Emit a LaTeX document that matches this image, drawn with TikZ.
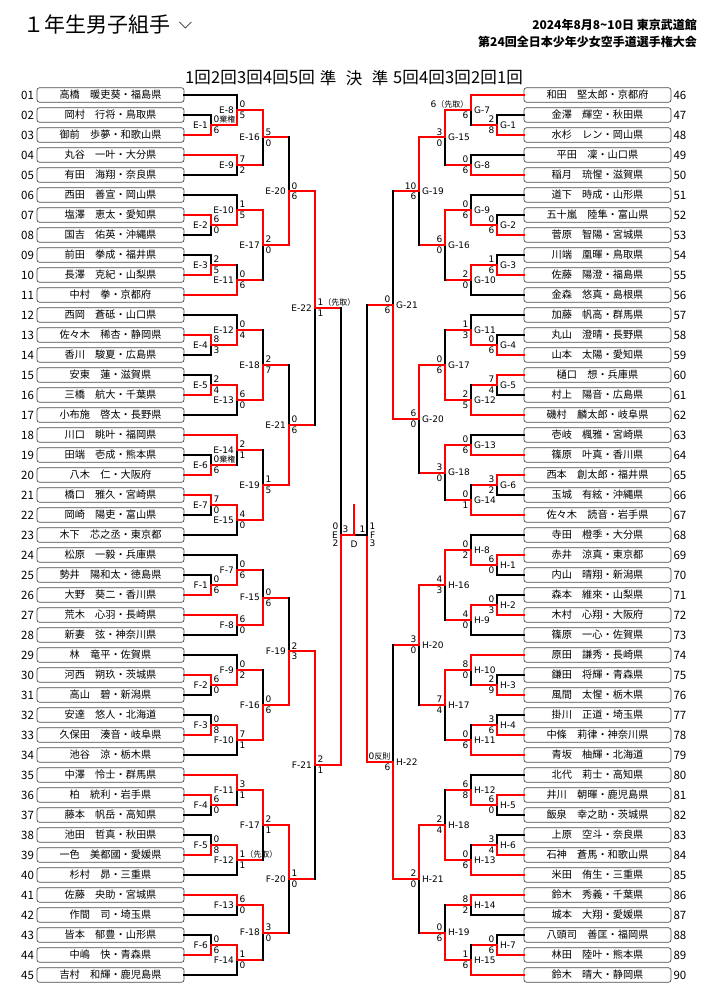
\documentclass[tikz,border=0pt]{standalone}
\usepackage{fontspec}
\setmainfont{Noto Sans CJK JP}
\newfontfamily\jp{Noto Sans CJK JP}
\newfontfamily\dv{DejaVu Sans}
\newcommand\jnote[1]{{\jp\fontsize{8}{9}\selectfont #1}}
\usetikzlibrary{positioning,calc}

\begin{document}
\begin{tikzpicture}[x=1pt, y=-1pt, node distance=20pt,
  namebox/.style = {draw=black!70, line width=0.7pt, rounded corners=2.5pt, minimum width=147pt, minimum height=14.5pt, inner sep=0pt, font=\fontsize{10.2}{12}\selectfont},
  num/.style = {inner sep=2.5pt, font=\fontsize{11.5}{13}\selectfont},
  lnum/.style = {label={[num]left:#1}},
  rnum/.style = {label={[num, inner sep=2pt]right:#1}},
  win/.style = {draw=red, line width=2pt, line cap=rect},
  lose/.style = {draw=black, line width=2pt, line cap=rect},
  labL/.style = {anchor=east, inner sep=3pt, font=\dv\fontsize{9}{10}\selectfont},
  labR/.style = {labL, anchor=west},
  stL/.style = {anchor=south west, inner xsep=2.5pt, inner ysep=2pt, text height=6.5pt, text depth=0pt, font=\dv\fontsize{9}{10}\selectfont},
  sbL/.style = {stL, anchor=north west},
  stR/.style = {stL, anchor=south east},
  sbR/.style = {stL, anchor=north east},
  roundhead/.style = {inner sep=0pt, font=\fontsize{16.5}{18}\selectfont}]
\fill[white] (0,0) rectangle (707,1000);
\useasboundingbox (0,0) rectangle (707,1000);

% header
\node[anchor=west, inner sep=0pt, font=\fontsize{21}{24}\selectfont] (title) at (23,25) {１年生男子組手};
\draw[line width=0.8pt, black!80] ($(title.east)+(9,-3)$) -- ++(6,6) -- ++(6,-6);
\node[anchor=east, inner sep=0pt, font=\bfseries\fontsize{12}{14}\selectfont] (date) at (697,25) {2024年8月8\textasciitilde 10日 東京武道館};
\node[anchor=east, inner sep=0pt, font=\bfseries\fontsize{12}{14}\selectfont] (meet) at (697,42) {第24回全日本少年少女空手道選手権大会};
\node[roundhead] (hL1) at (198,78) {1回};
\node[roundhead] (hL2) at (224,78) {2回};
\node[roundhead] (hL3) at (250,78) {3回};
\node[roundhead] (hL4) at (276,78) {4回};
\node[roundhead] (hL5) at (302,78) {5回};
\node[roundhead] (hLs) at (328,78) {準};
\node[roundhead] (hF) at (354,78) {決};
\node[roundhead] (hRs) at (380,78) {準};
\node[roundhead] (hR5) at (406,78) {5回};
\node[roundhead] (hR4) at (432,78) {4回};
\node[roundhead] (hR3) at (458,78) {3回};
\node[roundhead] (hR2) at (484,78) {2回};
\node[roundhead] (hR1) at (510,78) {1回};

% columns
\coordinate (c1) at (211,0);
\coordinate (c2) at (237,0);
\coordinate (c3) at (263,0);
\coordinate (c4) at (289,0);
\coordinate (c5) at (315,0);
\coordinate (d1) at (497,0);
\coordinate (d2) at (471,0);
\coordinate (d3) at (445,0);
\coordinate (d4) at (419,0);
\coordinate (d5) at (393,0);

% left entries
\node[namebox, lnum=01] (p01) at (110.5,95) {高橋　暖吏葵・福島県};
\node[namebox, lnum=02, below of=p01] (p02) {岡村　行将・鳥取県};
\node[namebox, lnum=03, below of=p02] (p03) {御前　歩夢・和歌山県};
\node[namebox, lnum=04, below of=p03] (p04) {丸谷　一叶・大分県};
\node[namebox, lnum=05, below of=p04] (p05) {有田　海翔・奈良県};
\node[namebox, lnum=06, below of=p05] (p06) {西田　善宣・岡山県};
\node[namebox, lnum=07, below of=p06] (p07) {塩澤　恵太・愛知県};
\node[namebox, lnum=08, below of=p07] (p08) {国吉　佑英・沖縄県};
\node[namebox, lnum=09, below of=p08] (p09) {前田　拳成・福井県};
\node[namebox, lnum=10, below of=p09] (p10) {長澤　克紀・山梨県};
\node[namebox, lnum=11, below of=p10] (p11) {中村　拳・京都府};
\node[namebox, lnum=12, below of=p11] (p12) {西岡　蒼砥・山口県};
\node[namebox, lnum=13, below of=p12] (p13) {佐々木　稀杏・静岡県};
\node[namebox, lnum=14, below of=p13] (p14) {香川　駿夏・広島県};
\node[namebox, lnum=15, below of=p14] (p15) {安東　蓮・滋賀県};
\node[namebox, lnum=16, below of=p15] (p16) {三橋　航大・千葉県};
\node[namebox, lnum=17, below of=p16] (p17) {小布施　啓太・長野県};
\node[namebox, lnum=18, below of=p17] (p18) {川口　眺叶・福岡県};
\node[namebox, lnum=19, below of=p18] (p19) {田端　壱成・熊本県};
\node[namebox, lnum=20, below of=p19] (p20) {八木　仁・大阪府};
\node[namebox, lnum=21, below of=p20] (p21) {橋口　雅久・宮崎県};
\node[namebox, lnum=22, below of=p21] (p22) {岡崎　陽吏・富山県};
\node[namebox, lnum=23, below of=p22] (p23) {木下　芯之丞・東京都};
\node[namebox, lnum=24, below of=p23] (p24) {松原　一毅・兵庫県};
\node[namebox, lnum=25, below of=p24] (p25) {勢井　陽和太・徳島県};
\node[namebox, lnum=26, below of=p25] (p26) {大野　葵二・香川県};
\node[namebox, lnum=27, below of=p26] (p27) {荒木　心羽・長崎県};
\node[namebox, lnum=28, below of=p27] (p28) {新妻　弦・神奈川県};
\node[namebox, lnum=29, below of=p28] (p29) {林　竜平・佐賀県};
\node[namebox, lnum=30, below of=p29] (p30) {河西　朔玖・茨城県};
\node[namebox, lnum=31, below of=p30] (p31) {高山　碧・新潟県};
\node[namebox, lnum=32, below of=p31] (p32) {安達　悠人・北海道};
\node[namebox, lnum=33, below of=p32] (p33) {久保田　湊音・岐阜県};
\node[namebox, lnum=34, below of=p33] (p34) {池谷　涼・栃木県};
\node[namebox, lnum=35, below of=p34] (p35) {中澤　怜士・群馬県};
\node[namebox, lnum=36, below of=p35] (p36) {柏　統利・岩手県};
\node[namebox, lnum=37, below of=p36] (p37) {藤本　帆岳・高知県};
\node[namebox, lnum=38, below of=p37] (p38) {池田　哲真・秋田県};
\node[namebox, lnum=39, below of=p38] (p39) {一色　美都國・愛媛県};
\node[namebox, lnum=40, below of=p39] (p40) {杉村　昴・三重県};
\node[namebox, lnum=41, below of=p40] (p41) {佐藤　央助・宮城県};
\node[namebox, lnum=42, below of=p41] (p42) {作間　司・埼玉県};
\node[namebox, lnum=43, below of=p42] (p43) {皆本　郁豊・山形県};
\node[namebox, lnum=44, below of=p43] (p44) {中嶋　快・青森県};
\node[namebox, lnum=45, below of=p44] (p45) {吉村　和輝・鹿児島県};

% right entries
\node[namebox, rnum=46] (p46) at (597.5,95) {和田　堅太郎・京都府};
\node[namebox, rnum=47, below of=p46] (p47) {金澤　輝空・秋田県};
\node[namebox, rnum=48, below of=p47] (p48) {水杉　レン・岡山県};
\node[namebox, rnum=49, below of=p48] (p49) {平田　凜・山口県};
\node[namebox, rnum=50, below of=p49] (p50) {稲月　琉惺・滋賀県};
\node[namebox, rnum=51, below of=p50] (p51) {道下　時成・山形県};
\node[namebox, rnum=52, below of=p51] (p52) {五十嵐　陸隼・富山県};
\node[namebox, rnum=53, below of=p52] (p53) {菅原　智陽・宮城県};
\node[namebox, rnum=54, below of=p53] (p54) {川端　凰暉・鳥取県};
\node[namebox, rnum=55, below of=p54] (p55) {佐藤　陽澄・福島県};
\node[namebox, rnum=56, below of=p55] (p56) {金森　悠真・島根県};
\node[namebox, rnum=57, below of=p56] (p57) {加藤　帆高・群馬県};
\node[namebox, rnum=58, below of=p57] (p58) {丸山　澄晴・長野県};
\node[namebox, rnum=59, below of=p58] (p59) {山本　太陽・愛知県};
\node[namebox, rnum=60, below of=p59] (p60) {樋口　想・兵庫県};
\node[namebox, rnum=61, below of=p60] (p61) {村上　陽音・広島県};
\node[namebox, rnum=62, below of=p61] (p62) {磯村　麟太郎・岐阜県};
\node[namebox, rnum=63, below of=p62] (p63) {壱岐　楓雅・宮崎県};
\node[namebox, rnum=64, below of=p63] (p64) {篠原　叶真・香川県};
\node[namebox, rnum=65, below of=p64] (p65) {西本　創太郎・福井県};
\node[namebox, rnum=66, below of=p65] (p66) {玉城　有絃・沖縄県};
\node[namebox, rnum=67, below of=p66] (p67) {佐々木　読音・岩手県};
\node[namebox, rnum=68, below of=p67] (p68) {寺田　橙季・大分県};
\node[namebox, rnum=69, below of=p68] (p69) {赤井　涼真・東京都};
\node[namebox, rnum=70, below of=p69] (p70) {内山　晴翔・新潟県};
\node[namebox, rnum=71, below of=p70] (p71) {森本　維來・山梨県};
\node[namebox, rnum=72, below of=p71] (p72) {木村　心翔・大阪府};
\node[namebox, rnum=73, below of=p72] (p73) {篠原　一心・佐賀県};
\node[namebox, rnum=74, below of=p73] (p74) {原田　謙秀・長崎県};
\node[namebox, rnum=75, below of=p74] (p75) {鎌田　将輝・青森県};
\node[namebox, rnum=76, below of=p75] (p76) {風間　太惺・栃木県};
\node[namebox, rnum=77, below of=p76] (p77) {掛川　正道・埼玉県};
\node[namebox, rnum=78, below of=p77] (p78) {中條　莉律・神奈川県};
\node[namebox, rnum=79, below of=p78] (p79) {青坂　柚輝・北海道};
\node[namebox, rnum=80, below of=p79] (p80) {北代　莉士・高知県};
\node[namebox, rnum=81, below of=p80] (p81) {井川　朝暉・鹿児島県};
\node[namebox, rnum=82, below of=p81] (p82) {飯泉　幸之助・茨城県};
\node[namebox, rnum=83, below of=p82] (p83) {上原　空斗・奈良県};
\node[namebox, rnum=84, below of=p83] (p84) {石神　蒼馬・和歌山県};
\node[namebox, rnum=85, below of=p84] (p85) {米田　侑生・三重県};
\node[namebox, rnum=86, below of=p85] (p86) {鈴木　秀義・千葉県};
\node[namebox, rnum=87, below of=p86] (p87) {城本　大翔・愛媛県};
\node[namebox, rnum=88, below of=p87] (p88) {八頭司　善匡・福岡県};
\node[namebox, rnum=89, below of=p88] (p89) {林田　陸叶・熊本県};
\node[namebox, rnum=90, below of=p89] (p90) {鈴木　晴大・静岡県};

% E block
\path ($(p02 -| c1)!.5!(p03 -| c1)$) coordinate (E1) node[stL] {0\jnote{棄権}} node[sbL] {6} node[labL] {E-1};
\draw[lose] (p02.east) -| (E1); \draw[win] (p03.east) -| (E1);
\path ($(p07 -| c1)!.5!(p08 -| c1)$) coordinate (E2) node[stL] {6} node[sbL] {0} node[labL] {E-2};
\draw[lose] (p08.east) -| (E2); \draw[win] (p07.east) -| (E2);
\path ($(p09 -| c1)!.5!(p10 -| c1)$) coordinate (E3) node[stL] {2} node[sbL] {5} node[labL] {E-3};
\draw[lose] (p09.east) -| (E3); \draw[win] (p10.east) -| (E3);
\path ($(p13 -| c1)!.5!(p14 -| c1)$) coordinate (E4) node[stL] {8} node[sbL] {3} node[labL] {E-4};
\draw[lose] (p14.east) -| (E4); \draw[win] (p13.east) -| (E4);
\path ($(p15 -| c1)!.5!(p16 -| c1)$) coordinate (E5) node[stL] {2} node[sbL] {4} node[labL] {E-5};
\draw[lose] (p15.east) -| (E5); \draw[win] (p16.east) -| (E5);
\path ($(p19 -| c1)!.5!(p20 -| c1)$) coordinate (E6) node[stL] {0\jnote{棄権}} node[sbL] {6} node[labL] {E-6};
\draw[lose] (p19.east) -| (E6); \draw[win] (p20.east) -| (E6);
\path ($(p21 -| c1)!.5!(p22 -| c1)$) coordinate (E7) node[stL] {7} node[sbL] {0} node[labL] {E-7};
\draw[lose] (p22.east) -| (E7); \draw[win] (p21.east) -| (E7);
\path ($(p01 -| c2)!.5!(E1 -| c2)$) coordinate (E8) node[stL] {0} node[sbL] {5} node[labL] {E-8};
\draw[lose] (p01.east) -| (E8); \draw[win] (E1) -| (E8);
\path ($(p04 -| c2)!.5!(p05 -| c2)$) coordinate (E9) node[stL] {7} node[sbL] {2} node[labL] {E-9};
\draw[lose] (p05.east) -| (E9); \draw[win] (p04.east) -| (E9);
\path ($(p06 -| c2)!.5!(E2 -| c2)$) coordinate (E10) node[stL] {1} node[sbL] {5} node[labL] {E-10};
\draw[lose] (p06.east) -| (E10); \draw[win] (E2) -| (E10);
\path ($(E3 -| c2)!.5!(p11 -| c2)$) coordinate (E11) node[stL] {0} node[sbL] {6} node[labL] {E-11};
\draw[win] (E3) -- (E3 -| E11) edge[lose] (E11); \draw[win] (p11.east) -| (E11);
\path ($(p12 -| c2)!.5!(E4 -| c2)$) coordinate (E12) node[stL] {0} node[sbL] {4} node[labL] {E-12};
\draw[lose] (p12.east) -| (E12); \draw[win] (E4) -| (E12);
\path ($(E5 -| c2)!.5!(p17 -| c2)$) coordinate (E13) node[stL] {6} node[sbL] {0} node[labL] {E-13};
\draw[lose] (p17.east) -| (E13); \draw[win] (E5) -| (E13);
\path ($(p18 -| c2)!.5!(E6 -| c2)$) coordinate (E14) node[stL] {2} node[sbL] {1} node[labL] {E-14};
\draw[win] (E6) -- (E6 -| E14) edge[lose] (E14); \draw[win] (p18.east) -| (E14);
\path ($(E7 -| c2)!.5!(p23 -| c2)$) coordinate (E15) node[stL] {4} node[sbL] {0} node[labL] {E-15};
\draw[lose] (p23.east) -| (E15); \draw[win] (E7) -| (E15);
\path ($(E8 -| c3)!.5!(E9 -| c3)$) coordinate (E16) node[stL] {5} node[sbL] {0} node[labL] {E-16};
\draw[win] (E9) -- (E9 -| E16) edge[lose] (E16); \draw[win] (E8) -| (E16);
\path ($(E10 -| c3)!.5!(E11 -| c3)$) coordinate (E17) node[stL] {2} node[sbL] {0} node[labL] {E-17};
\draw[win] (E11) -- (E11 -| E17) edge[lose] (E17); \draw[win] (E10) -| (E17);
\path ($(E12 -| c3)!.5!(E13 -| c3)$) coordinate (E18) node[stL] {2} node[sbL] {7} node[labL] {E-18};
\draw[win] (E12) -- (E12 -| E18) edge[lose] (E18); \draw[win] (E13) -| (E18);
\path ($(E14 -| c3)!.5!(E15 -| c3)$) coordinate (E19) node[stL] {1} node[sbL] {5} node[labL] {E-19};
\draw[win] (E14) -- (E14 -| E19) edge[lose] (E19); \draw[win] (E15) -| (E19);
\path ($(E16 -| c4)!.5!(E17 -| c4)$) coordinate (E20) node[stL] {0} node[sbL] {6} node[labL] {E-20};
\draw[win] (E16) -- (E16 -| E20) edge[lose] (E20); \draw[win] (E17) -| (E20);
\path ($(E18 -| c4)!.5!(E19 -| c4)$) coordinate (E21) node[stL] {0} node[sbL] {6} node[labL] {E-21};
\draw[win] (E18) -- (E18 -| E21) edge[lose] (E21); \draw[win] (E19) -| (E21);
\path ($(E20 -| c5)!.5!(E21 -| c5)$) coordinate (E22) node[stL] {1\jnote{（先取）}} node[sbL] {1} node[labL] {E-22};
\draw[win] (E21) -- (E21 -| E22) edge[lose] (E22); \draw[win] (E20) -| (E22);

% F block
\path ($(p25 -| c1)!.5!(p26 -| c1)$) coordinate (F1) node[stL] {0} node[sbL] {6} node[labL] {F-1};
\draw[lose] (p25.east) -| (F1); \draw[win] (p26.east) -| (F1);
\path ($(p30 -| c1)!.5!(p31 -| c1)$) coordinate (F2) node[stL] {6} node[sbL] {0} node[labL] {F-2};
\draw[lose] (p31.east) -| (F2); \draw[win] (p30.east) -| (F2);
\path ($(p32 -| c1)!.5!(p33 -| c1)$) coordinate (F3) node[stL] {0} node[sbL] {8} node[labL] {F-3};
\draw[lose] (p32.east) -| (F3); \draw[win] (p33.east) -| (F3);
\path ($(p36 -| c1)!.5!(p37 -| c1)$) coordinate (F4) node[stL] {6} node[sbL] {0} node[labL] {F-4};
\draw[lose] (p37.east) -| (F4); \draw[win] (p36.east) -| (F4);
\path ($(p38 -| c1)!.5!(p39 -| c1)$) coordinate (F5) node[stL] {0} node[sbL] {8} node[labL] {F-5};
\draw[lose] (p38.east) -| (F5); \draw[win] (p39.east) -| (F5);
\path ($(p43 -| c1)!.5!(p44 -| c1)$) coordinate (F6) node[stL] {0} node[sbL] {6} node[labL] {F-6};
\draw[lose] (p43.east) -| (F6); \draw[win] (p44.east) -| (F6);
\path ($(p24 -| c2)!.5!(F1 -| c2)$) coordinate (F7) node[stL] {0} node[sbL] {6} node[labL] {F-7};
\draw[lose] (p24.east) -| (F7); \draw[win] (F1) -| (F7);
\path ($(p27 -| c2)!.5!(p28 -| c2)$) coordinate (F8) node[stL] {6} node[sbL] {0} node[labL] {F-8};
\draw[lose] (p28.east) -| (F8); \draw[win] (p27.east) -| (F8);
\path ($(p29 -| c2)!.5!(F2 -| c2)$) coordinate (F9) node[stL] {0} node[sbL] {2} node[labL] {F-9};
\draw[lose] (p29.east) -| (F9); \draw[win] (F2) -| (F9);
\path ($(F3 -| c2)!.5!(p34 -| c2)$) coordinate (F10) node[stL] {7} node[sbL] {1} node[labL] {F-10};
\draw[lose] (p34.east) -| (F10); \draw[win] (F3) -| (F10);
\path ($(p35 -| c2)!.5!(F4 -| c2)$) coordinate (F11) node[stL] {3} node[sbL] {1} node[labL] {F-11};
\draw[win] (F4) -- (F4 -| F11) edge[lose] (F11); \draw[win] (p35.east) -| (F11);
\path ($(F5 -| c2)!.5!(p40 -| c2)$) coordinate (F12) node[stL] {1\jnote{（先取）}} node[sbL] {1} node[labL] {F-12};
\draw[lose] (p40.east) -| (F12); \draw[win] (F5) -| (F12);
\path ($(p41 -| c2)!.5!(p42 -| c2)$) coordinate (F13) node[stL] {6} node[sbL] {0} node[labL] {F-13};
\draw[lose] (p42.east) -| (F13); \draw[win] (p41.east) -| (F13);
\path ($(F6 -| c2)!.5!(p45 -| c2)$) coordinate (F14) node[stL] {1} node[sbL] {0} node[labL] {F-14};
\draw[lose] (p45.east) -| (F14); \draw[win] (F6) -| (F14);
\path ($(F7 -| c3)!.5!(F8 -| c3)$) coordinate (F15) node[stL] {0} node[sbL] {6} node[labL] {F-15};
\draw[win] (F7) -- (F7 -| F15) edge[lose] (F15); \draw[win] (F8) -| (F15);
\path ($(F9 -| c3)!.5!(F10 -| c3)$) coordinate (F16) node[stL] {0} node[sbL] {6} node[labL] {F-16};
\draw[win] (F9) -- (F9 -| F16) edge[lose] (F16); \draw[win] (F10) -| (F16);
\path ($(F11 -| c3)!.5!(F12 -| c3)$) coordinate (F17) node[stL] {2} node[sbL] {1} node[labL] {F-17};
\draw[win] (F12) -- (F12 -| F17) edge[lose] (F17); \draw[win] (F11) -| (F17);
\path ($(F13 -| c3)!.5!(F14 -| c3)$) coordinate (F18) node[stL] {3} node[sbL] {0} node[labL] {F-18};
\draw[win] (F14) -- (F14 -| F18) edge[lose] (F18); \draw[win] (F13) -| (F18);
\path ($(F15 -| c4)!.5!(F16 -| c4)$) coordinate (F19) node[stL] {2} node[sbL] {3} node[labL] {F-19};
\draw[win] (F15) -- (F15 -| F19) edge[lose] (F19); \draw[win] (F16) -| (F19);
\path ($(F17 -| c4)!.5!(F18 -| c4)$) coordinate (F20) node[stL] {1} node[sbL] {0} node[labL] {F-20};
\draw[win] (F18) -- (F18 -| F20) edge[lose] (F20); \draw[win] (F17) -| (F20);
\path ($(F19 -| c5)!.5!(F20 -| c5)$) coordinate (F21) node[stL] {2} node[sbL] {1} node[labL] {F-21};
\draw[win] (F20) -- (F20 -| F21) edge[lose] (F21); \draw[win] (F19) -| (F21);

% G block
\path ($(p47 -| d1)!.5!(p48 -| d1)$) coordinate (G1) node[stR] {2} node[sbR] {8} node[labR] {G-1};
\draw[lose] (p47.west) -| (G1); \draw[win] (p48.west) -| (G1);
\path ($(p52 -| d1)!.5!(p53 -| d1)$) coordinate (G2) node[stR] {0} node[sbR] {6} node[labR] {G-2};
\draw[lose] (p52.west) -| (G2); \draw[win] (p53.west) -| (G2);
\path ($(p54 -| d1)!.5!(p55 -| d1)$) coordinate (G3) node[stR] {1} node[sbR] {6} node[labR] {G-3};
\draw[lose] (p54.west) -| (G3); \draw[win] (p55.west) -| (G3);
\path ($(p58 -| d1)!.5!(p59 -| d1)$) coordinate (G4) node[stR] {0} node[sbR] {6} node[labR] {G-4};
\draw[lose] (p58.west) -| (G4); \draw[win] (p59.west) -| (G4);
\path ($(p60 -| d1)!.5!(p61 -| d1)$) coordinate (G5) node[stR] {7} node[sbR] {4} node[labR] {G-5};
\draw[lose] (p61.west) -| (G5); \draw[win] (p60.west) -| (G5);
\path ($(p65 -| d1)!.5!(p66 -| d1)$) coordinate (G6) node[stR] {3} node[sbR] {2} node[labR] {G-6};
\draw[lose] (p66.west) -| (G6); \draw[win] (p65.west) -| (G6);
\path ($(p46 -| d2)!.5!(G1 -| d2)$) coordinate (G7) node[stR] {6\jnote{（先取）}} node[sbR] {6} node[labR] {G-7};
\draw[win] (G1) -- (G1 -| G7) edge[lose] (G7); \draw[win] (p46.west) -| (G7);
\path ($(p49 -| d2)!.5!(p50 -| d2)$) coordinate (G8) node[stR] {0} node[sbR] {6} node[labR] {G-8};
\draw[lose] (p49.west) -| (G8); \draw[win] (p50.west) -| (G8);
\path ($(p51 -| d2)!.5!(G2 -| d2)$) coordinate (G9) node[stR] {0} node[sbR] {6} node[labR] {G-9};
\draw[lose] (p51.west) -| (G9); \draw[win] (G2) -| (G9);
\path ($(G3 -| d2)!.5!(p56 -| d2)$) coordinate (G10) node[stR] {2} node[sbR] {0} node[labR] {G-10};
\draw[lose] (p56.west) -| (G10); \draw[win] (G3) -| (G10);
\path ($(p57 -| d2)!.5!(G4 -| d2)$) coordinate (G11) node[stR] {1} node[sbR] {3} node[labR] {G-11};
\draw[lose] (p57.west) -| (G11); \draw[win] (G4) -| (G11);
\path ($(G5 -| d2)!.5!(p62 -| d2)$) coordinate (G12) node[stR] {2} node[sbR] {5} node[labR] {G-12};
\draw[win] (G5) -- (G5 -| G12) edge[lose] (G12); \draw[win] (p62.west) -| (G12);
\path ($(p63 -| d2)!.5!(p64 -| d2)$) coordinate (G13) node[stR] {0} node[sbR] {6} node[labR] {G-13};
\draw[lose] (p63.west) -| (G13); \draw[win] (p64.west) -| (G13);
\path ($(G6 -| d2)!.5!(p67 -| d2)$) coordinate (G14) node[stR] {0} node[sbR] {1} node[labR] {G-14};
\draw[win] (G6) -- (G6 -| G14) edge[lose] (G14); \draw[win] (p67.west) -| (G14);
\path ($(G7 -| d3)!.5!(G8 -| d3)$) coordinate (G15) node[stR] {3} node[sbR] {0} node[labR] {G-15};
\draw[win] (G8) -- (G8 -| G15) edge[lose] (G15); \draw[win] (G7) -| (G15);
\path ($(G9 -| d3)!.5!(G10 -| d3)$) coordinate (G16) node[stR] {6} node[sbR] {0} node[labR] {G-16};
\draw[win] (G10) -- (G10 -| G16) edge[lose] (G16); \draw[win] (G9) -| (G16);
\path ($(G11 -| d3)!.5!(G12 -| d3)$) coordinate (G17) node[stR] {0} node[sbR] {6} node[labR] {G-17};
\draw[win] (G11) -- (G11 -| G17) edge[lose] (G17); \draw[win] (G12) -| (G17);
\path ($(G13 -| d3)!.5!(G14 -| d3)$) coordinate (G18) node[stR] {3} node[sbR] {0} node[labR] {G-18};
\draw[win] (G14) -- (G14 -| G18) edge[lose] (G18); \draw[win] (G13) -| (G18);
\path ($(G15 -| d4)!.5!(G16 -| d4)$) coordinate (G19) node[stR] {10} node[sbR] {6} node[labR] {G-19};
\draw[win] (G16) -- (G16 -| G19) edge[lose] (G19); \draw[win] (G15) -| (G19);
\path ($(G17 -| d4)!.5!(G18 -| d4)$) coordinate (G20) node[stR] {6} node[sbR] {0} node[labR] {G-20};
\draw[win] (G18) -- (G18 -| G20) edge[lose] (G20); \draw[win] (G17) -| (G20);
\path ($(G19 -| d5)!.5!(G20 -| d5)$) coordinate (G21) node[stR] {0} node[sbR] {6} node[labR] {G-21};
\draw[win] (G19) -- (G19 -| G21) edge[lose] (G21); \draw[win] (G20) -| (G21);

% H block
\path ($(p69 -| d1)!.5!(p70 -| d1)$) coordinate (H1) node[stR] {6} node[sbR] {0} node[labR] {H-1};
\draw[lose] (p70.west) -| (H1); \draw[win] (p69.west) -| (H1);
\path ($(p71 -| d1)!.5!(p72 -| d1)$) coordinate (H2) node[stR] {0} node[sbR] {3} node[labR] {H-2};
\draw[lose] (p71.west) -| (H2); \draw[win] (p72.west) -| (H2);
\path ($(p75 -| d1)!.5!(p76 -| d1)$) coordinate (H3) node[stR] {2} node[sbR] {9} node[labR] {H-3};
\draw[lose] (p75.west) -| (H3); \draw[win] (p76.west) -| (H3);
\path ($(p77 -| d1)!.5!(p78 -| d1)$) coordinate (H4) node[stR] {3} node[sbR] {6} node[labR] {H-4};
\draw[lose] (p77.west) -| (H4); \draw[win] (p78.west) -| (H4);
\path ($(p81 -| d1)!.5!(p82 -| d1)$) coordinate (H5) node[stR] {6} node[sbR] {0} node[labR] {H-5};
\draw[lose] (p82.west) -| (H5); \draw[win] (p81.west) -| (H5);
\path ($(p83 -| d1)!.5!(p84 -| d1)$) coordinate (H6) node[stR] {3} node[sbR] {4} node[labR] {H-6};
\draw[lose] (p83.west) -| (H6); \draw[win] (p84.west) -| (H6);
\path ($(p88 -| d1)!.5!(p89 -| d1)$) coordinate (H7) node[stR] {0} node[sbR] {6} node[labR] {H-7};
\draw[lose] (p88.west) -| (H7); \draw[win] (p89.west) -| (H7);
\path ($(p68 -| d2)!.5!(H1 -| d2)$) coordinate (H8) node[stR] {0} node[sbR] {2} node[labR] {H-8};
\draw[lose] (p68.west) -| (H8); \draw[win] (H1) -| (H8);
\path ($(H2 -| d2)!.5!(p73 -| d2)$) coordinate (H9) node[stR] {4} node[sbR] {0} node[labR] {H-9};
\draw[lose] (p73.west) -| (H9); \draw[win] (H2) -| (H9);
\path ($(p74 -| d2)!.5!(H3 -| d2)$) coordinate (H10) node[stR] {8} node[sbR] {0} node[labR] {H-10};
\draw[win] (H3) -- (H3 -| H10) edge[lose] (H10); \draw[win] (p74.west) -| (H10);
\path ($(H4 -| d2)!.5!(p79 -| d2)$) coordinate (H11) node[stR] {0} node[sbR] {6} node[labR] {H-11};
\draw[win] (H4) -- (H4 -| H11) edge[lose] (H11); \draw[win] (p79.west) -| (H11);
\path ($(p80 -| d2)!.5!(H5 -| d2)$) coordinate (H12) node[stR] {6} node[sbR] {8} node[labR] {H-12};
\draw[lose] (p80.west) -| (H12); \draw[win] (H5) -| (H12);
\path ($(H6 -| d2)!.5!(p85 -| d2)$) coordinate (H13) node[stR] {0} node[sbR] {6} node[labR] {H-13};
\draw[win] (H6) -- (H6 -| H13) edge[lose] (H13); \draw[win] (p85.west) -| (H13);
\path ($(p86 -| d2)!.5!(p87 -| d2)$) coordinate (H14) node[stR] {8} node[sbR] {2} node[labR] {H-14};
\draw[lose] (p87.west) -| (H14); \draw[win] (p86.west) -| (H14);
\path ($(H7 -| d2)!.5!(p90 -| d2)$) coordinate (H15) node[stR] {1} node[sbR] {6} node[labR] {H-15};
\draw[win] (H7) -- (H7 -| H15) edge[lose] (H15); \draw[win] (p90.west) -| (H15);
\path ($(H8 -| d3)!.5!(H9 -| d3)$) coordinate (H16) node[stR] {4} node[sbR] {3} node[labR] {H-16};
\draw[win] (H9) -- (H9 -| H16) edge[lose] (H16); \draw[win] (H8) -| (H16);
\path ($(H10 -| d3)!.5!(H11 -| d3)$) coordinate (H17) node[stR] {7} node[sbR] {4} node[labR] {H-17};
\draw[win] (H11) -- (H11 -| H17) edge[lose] (H17); \draw[win] (H10) -| (H17);
\path ($(H12 -| d3)!.5!(H13 -| d3)$) coordinate (H18) node[stR] {2} node[sbR] {4} node[labR] {H-18};
\draw[win] (H12) -- (H12 -| H18) edge[lose] (H18); \draw[win] (H13) -| (H18);
\path ($(H14 -| d3)!.5!(H15 -| d3)$) coordinate (H19) node[stR] {0} node[sbR] {6} node[labR] {H-19};
\draw[win] (H14) -- (H14 -| H19) edge[lose] (H19); \draw[win] (H15) -| (H19);
\path ($(H16 -| d4)!.5!(H17 -| d4)$) coordinate (H20) node[stR] {3} node[sbR] {0} node[labR] {H-20};
\draw[win] (H17) -- (H17 -| H20) edge[lose] (H20); \draw[win] (H16) -| (H20);
\path ($(H18 -| d4)!.5!(H19 -| d4)$) coordinate (H21) node[stR] {2} node[sbR] {0} node[labR] {H-21};
\draw[win] (H19) -- (H19 -| H21) edge[lose] (H21); \draw[win] (H18) -| (H21);
\path ($(H20 -| d5)!.5!(H21 -| d5)$) coordinate (H22) node[stR] {0\jnote{反則}} node[sbR] {6} node[labR] {H-22};
\draw[win] (H20) -- (H20 -| H22) edge[lose] (H22); \draw[win] (H21) -| (H22);

% semi-finals and final
\coordinate (semiE) at (341,535);
\coordinate (semiF) at (367,535);
\coordinate (final) at (354,535);
\coordinate (champ) at (354,505);
\path (semiE) node[stR, yshift=3pt] {0} node[sbR, yshift=-3pt] {2} node[labL] {E};
\draw[win] (E22) -- (E22 -| semiE) edge[lose] (semiE); \draw[win] (F21) -| (semiE);
\path (semiF) node[stL, yshift=3pt] {1} node[sbL, yshift=-3pt] {3} node[labR] {F};
\draw[win] (G21) -- (G21 -| semiF) edge[lose] (semiF); \draw[win] (H22) -| (semiF);
\path (final) node[stR, xshift=-3pt] {3} node[stL, xshift=3pt] {1} node[labL, anchor=north, yshift=-3pt] {D};
\draw[lose] (semiF) -- (final);
\draw[win] (semiE) -- (final) -- (champ);
\end{tikzpicture}
\end{document}
